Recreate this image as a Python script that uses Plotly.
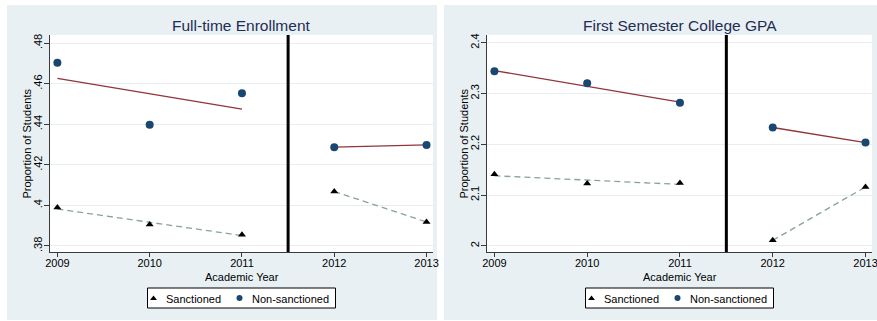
import plotly.graph_objects as go

# Academic years on the x axis
years = [2009, 2010, 2011, 2012, 2013]
year_labels = ["2009", "2010", "2011", "2012", "2013"]

# Full-time enrollment (proportion of students)
enroll_sanctioned = [0.3990, 0.3905, 0.3855, 0.4068, 0.3918]
enroll_nonsanctioned = [0.4703, 0.4398, 0.4553, 0.4287, 0.4298]

# First semester college GPA
gpa_sanctioned = [2.141, 2.123, 2.124, 2.011, 2.116]
gpa_nonsanctioned = [2.3436, 2.3200, 2.2817, 2.2330, 2.2033]

# Linear fits, before (2009-2011) and after (2012-2013) the policy break
fit_years = [2009, 2011, None, 2012, 2013]
enroll_fit_sanctioned = [0.3982, 0.3851, None, 0.4068, 0.3918]
enroll_fit_nonsanctioned = [0.4626, 0.4475, None, 0.4287, 0.4298]
gpa_fit_sanctioned = [2.138, 2.121, None, 2.011, 2.116]
gpa_fit_nonsanctioned = [2.345, 2.283, None, 2.2330, 2.2033]

# Axis ticks
enroll_ticks = [0.38, 0.40, 0.42, 0.44, 0.46, 0.48]
enroll_ticktext = [".38", ".4", ".42", ".44", ".46", ".48"]
gpa_ticks = [2.0, 2.1, 2.2, 2.3, 2.4]
gpa_ticktext = ["2", "2.1", "2.2", "2.3", "2.4"]

titles = ["Full-time Enrollment", "First Semester College GPA"]
series_names = ["Sanctioned", "Non-sanctioned"]
x_title = "Academic Year"
y_title = "Proportion of Students"
break_year = 2011.5

W, H = 877, 321
BG = "#e9f0f3"
NAVY = "#1a476f"
MAROON = "#90353b"
SAGE = "#8aa396"
TITLE_C = "#1e2d53"
AXIS_C = "#3a3a3a"
FONT = "Liberation Sans, Arial, sans-serif"


def px_x(p):
    return p / W


def px_y(p):
    return 1 - p / H


# Panel geometry (pixels)
panel_left = [50, 487]
panel_right = [433, 872]
plot_top, plot_bottom = 35, 252
x_range = [2008.92, 2013.07]
y_ranges = [[0.377, 0.484], [1.988, 2.415]]
tick_sets = [(enroll_ticks, enroll_ticktext), (gpa_ticks, gpa_ticktext)]
panel_bg = [(7, 437), (444, 877)]

fig = go.Figure()

panels = [
    (enroll_sanctioned, enroll_nonsanctioned, enroll_fit_sanctioned, enroll_fit_nonsanctioned),
    (gpa_sanctioned, gpa_nonsanctioned, gpa_fit_sanctioned, gpa_fit_nonsanctioned),
]

for i, (s_vals, n_vals, s_fit, n_fit) in enumerate(panels):
    xa, ya = ("x", "y") if i == 0 else ("x2", "y2")
    fig.add_trace(go.Scatter(x=fit_years, y=n_fit, mode="lines", xaxis=xa, yaxis=ya,
                             line=dict(color=MAROON, width=1.3),
                             showlegend=False, hoverinfo="skip"))
    fig.add_trace(go.Scatter(x=fit_years, y=s_fit, mode="lines", xaxis=xa, yaxis=ya,
                             line=dict(color=SAGE, width=1.3, dash="6px,4px"),
                             showlegend=False, hoverinfo="skip"))
    fig.add_trace(go.Scatter(x=years, y=s_vals, mode="markers", name=series_names[0],
                             xaxis=xa, yaxis=ya, showlegend=False,
                             marker=dict(symbol="triangle-up", size=7, color="black")))
    fig.add_trace(go.Scatter(x=years, y=n_vals, mode="markers", name=series_names[1],
                             xaxis=xa, yaxis=ya, showlegend=False,
                             marker=dict(symbol="circle", size=8, color=NAVY)))

axis_common = dict(showline=True, linecolor=AXIS_C, linewidth=1,
                   ticks="outside", tickcolor=AXIS_C, automargin=False,
                   ticklabeloverflow="allow",
                   tickfont=dict(family=FONT, size=11, color="black"),
                   zeroline=False)

for i in range(2):
    xa = "xaxis" if i == 0 else "xaxis2"
    ya = "yaxis" if i == 0 else "yaxis2"
    fig.update_layout(**{
        xa: dict(domain=[px_x(panel_left[i]), px_x(panel_right[i])],
                 anchor="y" if i == 0 else "y2",
                 range=x_range, tickvals=years, ticktext=year_labels,
                 showgrid=False, ticklen=4, ticklabelstandoff=-3, **axis_common),
        ya: dict(domain=[px_y(plot_bottom), px_y(plot_top)],
                 anchor="x" if i == 0 else "x2",
                 range=y_ranges[i], tickvals=tick_sets[i][0],
                 ticktext=tick_sets[i][1], tickangle=-90, ticklen=5,
                 ticklabelstandoff=-2,
                 showgrid=True, gridcolor="#e6eef1", gridwidth=1,
                 **axis_common),
    })

# Full-page overlay axes used to place the legend keys
fig.update_layout(
    xaxis3=dict(domain=[0, 1], range=[0, W], visible=False, anchor="y3", fixedrange=True),
    yaxis3=dict(domain=[0, 1], range=[H, 0], visible=False, anchor="x3", fixedrange=True),
)

shapes = []
annotations = []
for i in range(2):
    shapes.append(dict(type="rect", xref="paper", yref="paper", layer="below",
                       x0=px_x(panel_bg[i][0]), x1=px_x(panel_bg[i][1]),
                       y0=px_y(320), y1=px_y(5),
                       fillcolor=BG, line=dict(width=0)))
    shapes.append(dict(type="rect", xref="paper", yref="paper", layer="below",
                       x0=px_x(panel_left[i]), x1=px_x(panel_right[i]),
                       y0=px_y(plot_bottom), y1=px_y(plot_top),
                       fillcolor="white", line=dict(width=0)))
    shapes.append(dict(type="line", xref="x" if i == 0 else "x2",
                       yref="y domain" if i == 0 else "y2 domain",
                       x0=break_year, x1=break_year, y0=0, y1=1,
                       line=dict(color="black", width=3)))

    cx = (panel_left[i] + panel_right[i]) / 2
    # panel title
    annotations.append(dict(text=titles[i], xref="paper", yref="paper",
                            x=px_x(cx), y=px_y(25), xanchor="center", yanchor="middle",
                            showarrow=False,
                            font=dict(family=FONT, size=15.5, color=TITLE_C)))
    # axis titles
    annotations.append(dict(text=x_title, xref="paper", yref="paper",
                            x=px_x(cx), y=px_y(277), xanchor="center", yanchor="middle",
                            showarrow=False,
                            font=dict(family=FONT, size=11, color="black")))
    annotations.append(dict(text=y_title, xref="paper", yref="paper",
                            x=px_x(panel_left[i] - 24), y=px_y((plot_top + plot_bottom) / 2),
                            xanchor="center", yanchor="middle", textangle=-90,
                            showarrow=False,
                            font=dict(family=FONT, size=11, color="black")))

    # legend box with keys and labels
    box_l, box_r = cx - 94, cx + 94
    shapes.append(dict(type="rect", xref="paper", yref="paper", layer="below",
                       x0=px_x(box_l), x1=px_x(box_r), y0=px_y(308), y1=px_y(288),
                       fillcolor="white", line=dict(color="black", width=1)))
    fig.add_trace(go.Scatter(x=[box_l + 6], y=[298.5], mode="markers",
                             xaxis="x3", yaxis="y3", showlegend=False, hoverinfo="skip",
                             marker=dict(symbol="triangle-up", size=6, color="black")))
    fig.add_trace(go.Scatter(x=[box_l + 92], y=[298], mode="markers",
                             xaxis="x3", yaxis="y3", showlegend=False, hoverinfo="skip",
                             marker=dict(symbol="circle", size=6, color=NAVY)))
    for off, name in ((16, series_names[0]), (102, series_names[1])):
        annotations.append(dict(text=name, xref="paper", yref="paper",
                                x=px_x(box_l + off), y=px_y(298.5),
                                xanchor="left", yanchor="middle", showarrow=False,
                                font=dict(family=FONT, size=11, color="black")))

fig.update_layout(
    width=W, height=H,
    margin=dict(l=0, r=0, t=0, b=0),
    paper_bgcolor="white", plot_bgcolor="rgba(0,0,0,0)",
    shapes=shapes, annotations=annotations,
    showlegend=False,
)

fig.write_html("out.html")
